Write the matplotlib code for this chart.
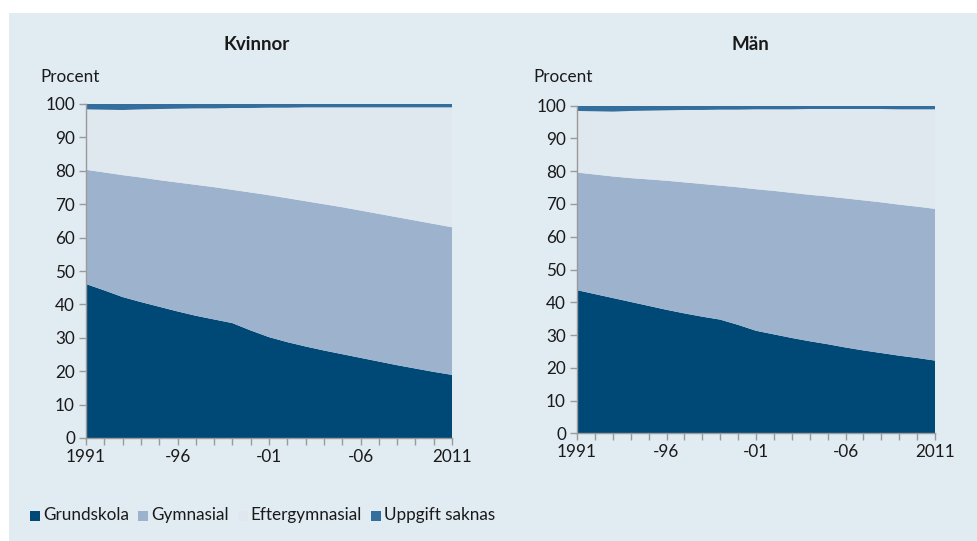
import matplotlib
matplotlib.use("Agg")
import matplotlib.pyplot as plt
import numpy as np
from matplotlib.patches import Rectangle

plt.rcParams['font.family'] = ['Lato', 'DejaVu Sans']

years = list(range(1991, 2012))
categories = ["Grundskola", "Gymnasial", "Eftergymnasial", "Uppgift saknas"]
tick_years = [1991, 1996, 2001, 2006, 2011]
tick_labels = ["1991", "-96", "-01", "-06", "2011"]

# Kvinnor (percent shares)
kv_grund = [46.1, 44.2, 42.2, 40.7, 39.3, 37.9, 36.6, 35.5, 34.4, 32.2, 30.2,
            28.7, 27.4, 26.2, 25.1, 24.0, 22.9, 21.8, 20.8, 19.8, 18.9]
kv_gymn = [34.2, 35.3, 36.5, 37.3, 37.9, 38.6, 39.2, 39.6, 39.9, 41.3, 42.5,
           43.1, 43.5, 43.8, 44.0, 44.1, 44.2, 44.3, 44.3, 44.3, 44.2]
kv_efter = [18.1, 18.8, 19.5, 20.4, 21.3, 22.1, 22.9, 23.6, 24.5, 25.3, 26.2,
            27.1, 28.1, 29.0, 29.9, 30.9, 31.9, 32.9, 33.9, 34.9, 35.9]
kv_saknas = [1.6, 1.7, 1.8, 1.6, 1.5, 1.4, 1.3, 1.3, 1.2, 1.2, 1.1,
             1.1, 1.0, 1.0, 1.0, 1.0, 1.0, 1.0, 1.0, 1.0, 1.0]

# Män (percent shares)
m_grund = [43.7, 42.5, 41.3, 40.1, 38.9, 37.7, 36.6, 35.6, 34.7, 33.1, 31.3,
           30.2, 29.1, 28.1, 27.2, 26.2, 25.3, 24.5, 23.7, 23.0, 22.2]
m_gymn = [35.9, 36.5, 37.1, 37.8, 38.6, 39.4, 40.0, 40.5, 40.9, 42.0, 43.2,
          43.8, 44.3, 44.7, 45.1, 45.5, 45.8, 46.0, 46.1, 46.2, 46.3]
m_efter = [18.8, 19.3, 19.8, 20.5, 21.0, 21.5, 22.1, 22.6, 23.2, 23.7, 24.4,
           24.9, 25.5, 26.2, 26.7, 27.3, 27.9, 28.5, 29.1, 29.7, 30.4]
m_saknas = [1.6, 1.7, 1.8, 1.6, 1.5, 1.4, 1.3, 1.3, 1.2, 1.2, 1.1,
            1.1, 1.1, 1.0, 1.0, 1.0, 1.0, 1.0, 1.1, 1.1, 1.1]

colors = ["#004876", "#9DB3CD", "#DFE7EF", "#336E9C"]
bg = "#E1EBF2"
tc = "#1a1a1a"
gc = "#9a9a9a"
fs = 12.3

fig = plt.figure(figsize=(9.77, 5.41), dpi=100, facecolor="white")
fig.patches.append(Rectangle((9/977, 0), 1 - 9/977, 1 - 13/541,
                             transform=fig.transFigure, facecolor=bg,
                             edgecolor="none", zorder=-10))

panels = [
    ("Kvinnor", [86/977, 1-438/541, 366/977, 334/541],
     [kv_grund, kv_gymn, kv_efter, kv_saknas], 257, 40),
    ("Män", [577/977, 1-433.3/541, 358/977, 327.6/541],
     [m_grund, m_gymn, m_efter, m_saknas], 750, 533),
]

for title, rect, series, tx, px in panels:
    ax = fig.add_axes(rect)
    ax.set_facecolor(bg)
    ax.stackplot(years, *series, colors=colors, linewidth=0)
    ax.set_xlim(1991, 2011)
    ax.set_ylim(0, 100)
    ax.set_yticks(range(0, 101, 10))
    ax.set_xticks(tick_years)
    ax.set_xticklabels(tick_labels)
    ax.set_xticks(years, minor=True)
    for s in ["top", "right"]:
        ax.spines[s].set_visible(False)
    for s in ["left", "bottom"]:
        ax.spines[s].set_color(gc)
        ax.spines[s].set_linewidth(1.0)
    ax.tick_params(axis="both", which="both", color=gc, length=5, width=1,
                   labelsize=fs, labelcolor=tc)
    ax.tick_params(axis="x", which="both", pad=3)
    ax.tick_params(axis="y", pad=3)
    fig.text(tx/977, 1-45/541, title, ha="center", va="center",
             fontsize=13.5, fontweight="bold", color=tc)
    fig.text(px/977, 1-77/541, "Procent", ha="left", va="center",
             fontsize=fs, color=tc)

# legend
lx = 30
for name, col in zip(categories, colors):
    fig.patches.append(Rectangle((lx/977, 1-521/541), 10/977, 10/541,
                                 transform=fig.transFigure, facecolor=col,
                                 edgecolor="none"))
    t = fig.text((lx+13)/977, 1-515/541, name, ha="left", va="center",
                 fontsize=fs, color=tc)
    fig.canvas.draw()
    bb = t.get_window_extent()
    lx = bb.x1 + 9

fig.savefig("out.png", dpi=100, facecolor="white")
